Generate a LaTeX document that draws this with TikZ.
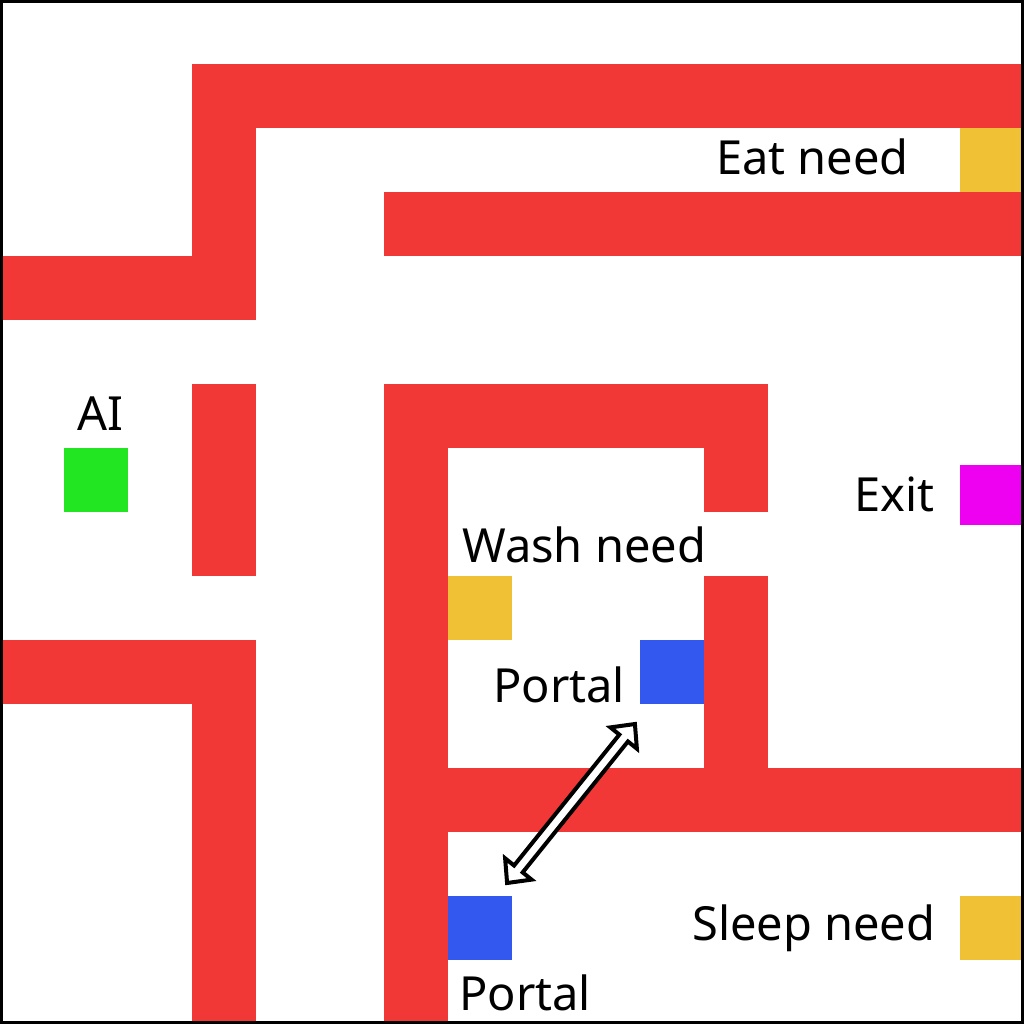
\documentclass[tikz,border=0pt]{standalone}
\usepackage{fontspec}
\setmainfont{Noto Sans}
\usetikzlibrary{arrows.meta,calc}
\definecolor{wallred}{HTML}{F23737}
\definecolor{needyellow}{HTML}{F0C035}
\definecolor{aigreen}{HTML}{22E622}
\definecolor{portalblue}{HTML}{3358F0}
\definecolor{exitmag}{HTML}{EE00F0}
\tikzset{
  wall/.style={fill=wallred,draw=none},
  lbl/.style={anchor=base west,inner sep=0pt,font=\fontsize{47}{50}\selectfont},
  portarrow/.style={draw=black,fill=white,line width=4pt,line join=miter}
}
\begin{document}
\begin{tikzpicture}[x=1pt,y=-1pt]
\useasboundingbox (0,0) rectangle (1024,1024);
\fill[white] (0,0) rectangle (1024,1024);
% walls
\fill[wall] (192,64) rectangle (1024,128);
\fill[wall] (192,64) rectangle (256,320);
\fill[wall] (0,256) rectangle (256,320);
\fill[wall] (384,192) rectangle (1024,256);
\fill[wall] (192,384) rectangle (256,576);
\fill[wall] (384,384) rectangle (768,448);
\fill[wall] (384,384) rectangle (448,1024);
\fill[wall] (704,384) rectangle (768,512);
\fill[wall] (704,576) rectangle (768,832);
\fill[wall] (448,768) rectangle (1024,832);
\fill[wall] (0,640) rectangle (256,704);
\fill[wall] (192,640) rectangle (256,1024);
% cells
\fill[needyellow] (960,128) rectangle (1024,192);
\fill[exitmag] (960,465) rectangle (1024,525);
\fill[aigreen] (64,448) rectangle (128,512);
\fill[needyellow] (448,576) rectangle (512,640);
\fill[portalblue] (640,640) rectangle (704,704);
\fill[portalblue] (448,896) rectangle (512,960);
\fill[needyellow] (960,896) rectangle (1024,960);
% labels
\node[lbl] (eat) at (716,175) {Eat need};
\node[lbl] (exit) at (854,511) {Exit};
\node[lbl] (ai) at (77,430) {AI};
\node[lbl] (wash) at (462,562) {Wash need};
\node[lbl] (portala) at (493,702) {Portal};
\node[lbl] (portalb) at (459,1010) {Portal};
\node[lbl] (sleep) at (692,940) {Sleep need};
% double-headed outlined arrow between the portals
\coordinate (pa) at (635,724);
\coordinate (pb) at (507,883);
\coordinate (pm) at ($(pa)!0.5!(pb)$);
\begin{scope}[shift={(pm)},rotate=51.2]
\draw[portarrow] (-102,0) -- (-84,17) -- (-84,5.5) -- (84,5.5) -- (84,17) -- (102,0)
  -- (84,-17) -- (84,-5.5) -- (-84,-5.5) -- (-84,-17) -- cycle;
\end{scope}
% border
\draw[line width=3pt] (1.5,1.5) rectangle (1022.5,1022.5);
\end{tikzpicture}
\end{document}
